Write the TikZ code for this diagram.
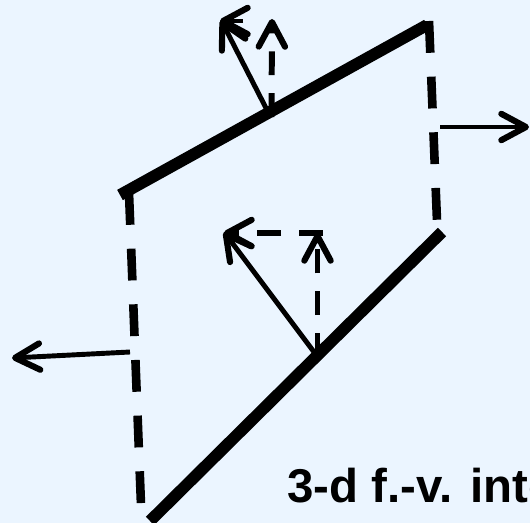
\documentclass[tikz,border=0pt]{standalone}
\usepackage{fontspec}
\setmainfont{Liberation Sans}
\usepackage{xcolor}
\usetikzlibrary{arrows.meta,positioning}
\definecolor{panelbg}{HTML}{EBF5FF}

\begin{document}
\begin{tikzpicture}[
  x=0.02cm, y=-0.02cm,
  face/.style={line width=6.7pt},
  side/.style={line width=4.9pt, dash pattern=on 18.1pt off 13.6pt},
  arrow/.style={-{Straight Barb[length=14pt, width=15pt, line width=3.5pt, line cap=round, round]}, line width=2.8pt},
  darrow/.style={arrow, line width=3.4pt, dash pattern=on 13.6pt off 10.2pt},
  lab/.style={font=\bfseries\fontsize{27pt}{30pt}\selectfont, anchor=base west, inner sep=0pt}
]
\fill[panelbg] (0,0) rectangle (530,523);
\clip (0,0) rectangle (530,523);
% top face
\coordinate (topa) at (120,195);
\coordinate (topb) at (427,25);
\coordinate (topmid) at (267,110);
\coordinate (topn) at (221,20);
\coordinate (topv) at (272,19);
\coordinate (topvs) at (271.5,117);
\coordinate (toph) at (243,21);
\coordinate (toptip) at (220,21);
% bottom face
\coordinate (lowa) at (442,232);
\coordinate (lowb) at (150,521);
\coordinate (lowmid) at (314,352);
\coordinate (lown) at (224,232);
\coordinate (lowv) at (317.5,233);
\coordinate (lowvs) at (317.5,357);
\coordinate (lowhs) at (323,233);
\coordinate (lowtip) at (224,233);
% side faces
\coordinate (righta) at (429,21);
\coordinate (rightb) at (437,221);
\coordinate (lefta) at (129,193);
\coordinate (leftb) at (141,505);
\coordinate (rights) at (440,127);
\coordinate (righte) at (529,127);
\coordinate (lefts) at (130,352);
\coordinate (lefte) at (12,358);
\draw[darrow] (topvs) -- (topv);
\draw[darrow] (lowvs) -- (lowv);
\draw[face] (topa) -- (topb);
\draw[face] (lowa) -- (lowb);
\draw[side] (righta) -- (rightb);
\draw[side] (lefta) -- (leftb);
\draw[arrow] (topmid) -- (topn);
\draw[arrow] (toph) -- (toptip);
\draw[arrow] (lowmid) -- (lown);
\draw[darrow] (lowhs) -- (lowtip);
\draw[arrow] (rights) -- (righte);
\draw[arrow] (lefts) -- (lefte);
\node[lab] (title) at (287,502) {3-d f.-v. inte};
\end{tikzpicture}
\end{document}
